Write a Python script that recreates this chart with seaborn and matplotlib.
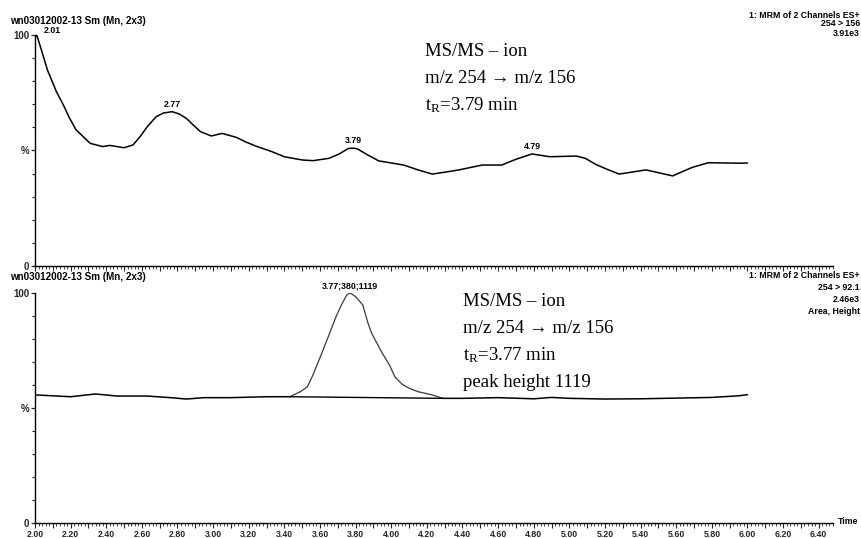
import numpy as np
import pandas as pd
import matplotlib
matplotlib.use("Agg")
import matplotlib.pyplot as plt
from matplotlib.ticker import FixedLocator, MultipleLocator, FuncFormatter
import seaborn as sns

# --- Channel 254 > 156 (upper trace), retention time in min, intensity in % ---
upper_time = [2.00, 2.01, 2.04, 2.07, 2.12, 2.16, 2.19, 2.23, 2.28, 2.31, 2.38,
              2.42, 2.50, 2.55, 2.59, 2.63, 2.68, 2.72, 2.77, 2.81, 2.85, 2.89,
              2.93, 2.99, 3.05, 3.13, 3.18, 3.24, 3.33, 3.40, 3.50, 3.56, 3.65,
              3.71, 3.76, 3.79, 3.81, 3.87, 3.93, 4.07, 4.15, 4.23, 4.30, 4.38,
              4.51, 4.62, 4.70, 4.79, 4.89, 5.04, 5.09, 5.15, 5.22, 5.28, 5.43,
              5.58, 5.63, 5.69, 5.78, 5.97, 6.00]
upper_pct = [99.0, 100.0, 92.5, 84.8, 75.5, 69.6, 64.6, 59.0, 55.3, 53.1, 51.7,
             52.2, 51.2, 52.4, 56.0, 60.3, 64.6, 66.2, 66.8, 65.8, 63.9, 60.9,
             58.1, 56.3, 57.4, 55.7, 53.8, 51.9, 49.5, 47.3, 45.9, 45.6, 46.6,
             48.6, 50.9, 51.0, 50.7, 48.0, 45.5, 43.7, 41.6, 39.8, 40.6, 41.6,
             43.7, 43.7, 46.2, 48.5, 47.3, 47.6, 46.6, 43.9, 41.6, 39.8, 41.6,
             39.0, 40.7, 42.7, 44.7, 44.5, 44.6]
upper_peaks = ["2.01", "2.77", "3.79", "4.79"]

# --- Channel 254 > 92.1 (lower trace) ---
lower_time = [2.00, 2.10, 2.20, 2.34, 2.46, 2.63, 2.76, 2.85, 2.95, 3.10, 3.30,
              3.43, 3.49, 3.53, 3.56, 3.61, 3.65, 3.69, 3.72, 3.75, 3.77, 3.80,
              3.84, 3.87, 3.89, 3.92, 3.95, 3.99, 4.02, 4.06, 4.10, 4.15, 4.23,
              4.29, 4.40, 4.60, 4.80, 4.90, 5.00, 5.20, 5.40, 5.60, 5.80, 5.95,
              6.00]
lower_pct = [55.7, 55.3, 54.9, 56.1, 55.2, 55.2, 54.5, 53.9, 54.5, 54.5, 54.9,
             54.9, 57.1, 59.3, 64.3, 73.8, 81.7, 89.7, 94.8, 99.1, 100.0, 98.4,
             94.8, 86.8, 82.5, 78.1, 73.8, 68.7, 63.6, 60.4, 58.6, 57.1, 55.7,
             54.2, 54.2, 54.5, 54.0, 54.6, 54.2, 53.9, 54.0, 54.3, 54.6, 55.3,
             55.8]
# integrated peak: start, apex, end retention times
peak_start, peak_apex, peak_end = 3.43, 3.77, 4.29
peak_label = "3.77;380;1119"

upper_info = ["1: MRM of 2 Channels ES+", "254 > 156", "3.91e3"]
lower_info = ["1: MRM of 2 Channels ES+", "254 > 92.1", "2.46e3", "Area, Height"]
sample_name = "wn03012002-13 Sm (Mn, 2x3)"

upper_note = ["MS/MS \u2013 ion", "m/z 254 \u2192 m/z 156", r"t$_{\rm R}$=3.79 min"]
lower_note = ["MS/MS \u2013 ion", "m/z 254 \u2192 m/z 156", r"t$_{\rm R}$=3.77 min",
              "peak height 1119"]

sns.set_theme(style="white")
plt.rcParams["font.family"] = ["Liberation Sans", "DejaVu Sans"]
plt.rcParams["mathtext.fontset"] = "custom"
plt.rcParams["mathtext.rm"] = "Liberation Serif"
plt.rcParams["mathtext.it"] = "Liberation Serif:italic"

W, H = 862, 538
fig = plt.figure(figsize=(W / 100, H / 100), dpi=100)
fig.patch.set_facecolor("white")


def px_axes(left, top, right, bottom):
    return fig.add_axes([left / W, 1 - bottom / H, (right - left) / W, (bottom - top) / H])


ax1 = px_axes(35, 35, 833, 266)
ax2 = px_axes(35, 293, 833, 523)

small = dict(fontsize=6.3, fontweight="bold", color="black")

for ax in (ax1, ax2):
    ax.set_xlim(2.0, 6.48)
    ax.set_ylim(0, 100)
    ax.set_facecolor("white")
    for side in ("top", "right"):
        ax.spines[side].set_visible(False)
    for side in ("left", "bottom"):
        ax.spines[side].set_color("black")
        ax.spines[side].set_linewidth(1.0)
    ax.yaxis.set_major_locator(FixedLocator([0, 50, 100]))
    ax.yaxis.set_major_formatter(FuncFormatter(lambda v, p: {0: "0", 50: "%", 100: "100"}[int(v)]))
    ax.yaxis.set_minor_locator(MultipleLocator(10))
    ax.xaxis.set_major_locator(MultipleLocator(0.1))
    ax.xaxis.set_minor_locator(MultipleLocator(0.02))
    ax.tick_params(axis="y", which="major", direction="out", length=3, width=0.9,
                   pad=1, labelsize=7, left=True)
    ax.tick_params(axis="y", which="minor", direction="out", length=2, width=0.8, left=True)
    ax.tick_params(axis="x", which="major", direction="out", length=3.5, width=0.8,
                   pad=1.5, labelsize=6.3, bottom=True)
    ax.tick_params(axis="x", which="minor", direction="out", length=1.8, width=0.6, bottom=True)
    for lab in ax.get_yticklabels():
        lab.set_fontweight("bold")

ax1.tick_params(axis="x", labelbottom=False)
ax2.xaxis.set_major_formatter(FuncFormatter(
    lambda v, p: f"{v:.2f}" if round(v * 10) % 2 == 0 and v < 6.45 else ""))
for lab in ax2.get_xticklabels():
    lab.set_fontweight("bold")

# upper chromatogram
up = pd.DataFrame({"time": upper_time, "pct": upper_pct})
sns.lineplot(data=up, x="time", y="pct", ax=ax1, color="black", linewidth=1.1,
             estimator=None, sort=True)
for lbl in upper_peaks:
    t = float(lbl)
    v = up.loc[(up["time"] - t).abs().idxmin(), "pct"]
    if lbl == "2.01":
        ax1.annotate(lbl, (t, v), xytext=(5, 0), textcoords="offset points",
                     ha="left", va="bottom", annotation_clip=False, **small)
    else:
        ax1.annotate(lbl, (t, v), xytext=(0, 2), textcoords="offset points",
                     ha="center", va="bottom", **small)

# lower chromatogram with integrated peak
lo = pd.DataFrame({"time": lower_time, "pct": lower_pct})
in_peak = (lo["time"] >= peak_start) & (lo["time"] <= peak_end)
sns.lineplot(data=lo[lo["time"] <= peak_start], x="time", y="pct", ax=ax2,
             color="black", linewidth=1.1, estimator=None)
sns.lineplot(data=lo[lo["time"] >= peak_end], x="time", y="pct", ax=ax2,
             color="black", linewidth=1.1, estimator=None)
sns.lineplot(data=lo[in_peak], x="time", y="pct", ax=ax2,
             color="#3a3a3a", linewidth=0.9, estimator=None)
edge = lo[lo["time"].isin([peak_start, peak_end])]
sns.lineplot(data=edge, x="time", y="pct", ax=ax2, color="black", linewidth=1.0,
             estimator=None)
apex_v = lo.loc[(lo["time"] - peak_apex).abs().idxmin(), "pct"]
ax2.annotate(peak_label, (peak_apex, apex_v), xytext=(0, 2), textcoords="offset points",
             ha="center", va="bottom", annotation_clip=False, **small)

for ax in (ax1, ax2):
    if ax.get_legend() is not None:
        ax.get_legend().remove()
    ax.set_xlabel("")
    ax.set_ylabel("")

# headers
fig.text(10 / W, 1 - 21 / H, sample_name, ha="left", va="center",
         fontsize=7.1, fontweight="bold", color="black")
fig.text(10 / W, 1 - 277 / H, sample_name, ha="left", va="center",
         fontsize=7.1, fontweight="bold", color="black")
for i, s in enumerate(upper_info):
    fig.text(860 / W, 1 - (15 + 9 * i) / H, s, ha="right", va="center", **small)
for i, s in enumerate(lower_info):
    fig.text(860 / W, 1 - (276 + 11.7 * i) / H, s, ha="right", va="center", **small)
fig.text(838 / W, 1 - 521 / H, "Time", ha="left", va="center", **small)

# method notes
serif = dict(fontsize=13.5, family=["Liberation Serif", "DejaVu Serif"], color="black")
for i, s in enumerate(upper_note):
    fig.text(425 / W, 1 - (52 + 26.7 * i) / H, s, ha="left", va="center", **serif)
for i, s in enumerate(lower_note):
    fig.text(463 / W, 1 - (302 + 26.7 * i) / H, s, ha="left", va="center", **serif)

fig.savefig("out.png", dpi=100, facecolor="white")
